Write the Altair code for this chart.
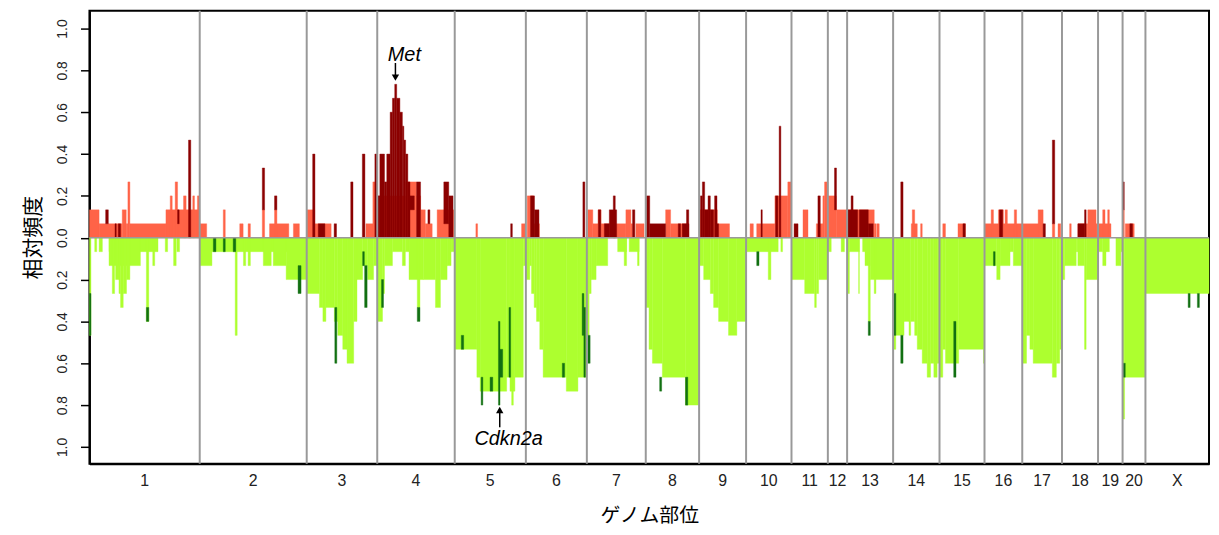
import altair as alt
import pandas as pd

# Chromosomes and their sizes (in 2.5-Mb bins)
CHROMS = ["1", "2", "3", "4", "5", "6", "7", "8", "9", "10", "11", "12", "13",
          "14", "15", "16", "17", "18", "19", "20", "X"]
CHROM_LEN = [111, 107.7, 71, 78, 71.6, 61.4, 59.3, 53.7, 47.3, 45.7, 36.6, 19.4,
             46.3, 46.7, 45.3, 38, 40, 36.3, 24.7, 23, 64]
N_SAMPLES = 15

# Gain frequency segments: (start, end, number of samples)
GAIN = [
    (0, 9.7, 2), (9.7, 33, 1), (33, 37, 2), (37, 38.7, 1), (38.7, 40.7, 4), (40.7, 77, 1),
    (77, 111, 2), (81.3, 83.3, 3), (86.3, 88.7, 4), (94.7, 97.3, 3), (104, 105.7, 3), (108.7, 110.3, 3),
    (111.3, 118, 1), (134.7, 136.7, 2), (151.3, 154.7, 1), (159.7, 162, 1), (174, 176.3, 2),
    (181.3, 200.7, 1), (186.3, 188.7, 2), (205.3, 211.3, 1),
    (218.7, 226.7, 2), (226.7, 243.3, 1), (278.3, 286.7, 1), (285.3, 288, 4),
    (289.7, 318.3, 3), (318.3, 329.3, 4), (329.3, 333.3, 3), (333.3, 338, 2), (338, 345, 1), (350, 367.7, 2),
    (389, 390.7, 1), (435, 439.3, 1),
    (440.7, 447, 3), (447, 453, 1),
    (501.7, 506.7, 2), (506.7, 512, 1), (512, 515, 2), (515, 540, 1), (540, 545, 2), (545, 546.7, 1),
    (550, 558.3, 1),
    (580, 585, 2), (585, 603.3, 1),
    (614.3, 632, 2), (632, 644.3, 1),
    (665, 668.3, 1), (671.7, 690, 1), (690, 703, 3), (703, 706.7, 4),
    (718.3, 723.3, 2), (731.7, 738.3, 1), (738.3, 740, 3), (740, 743.3, 4),
    (743.3, 751.7, 3), (751.7, 762.7, 2),
    (762.7, 790, 2), (790, 792, 1), (792.7, 795, 1),
    (827.3, 833.3, 1), (828.3, 830.7, 2), (836.7, 838.3, 1),
    (859, 861.7, 1), (874.3, 881.7, 1),
    (901, 939, 1), (907.7, 910, 2), (915, 920, 2), (921.7, 924, 2), (931, 933.3, 2),
    (939, 960, 1), (955, 960, 2), (969.3, 971.7, 1), (975, 977.7, 1),
    (986.7, 988.3, 1), (995, 1005, 1), (1005, 1013.3, 2), (1013.3, 1015.3, 1),
    (1015.3, 1028.3, 1), (1020, 1022.3, 2), (1025, 1026.7, 2),
    (1040, 1041.7, 2), (1042.7, 1051.7, 1),
]

# High-level gain segments: (start, end, lower count, upper count)
AMP = [
    (16.3, 19, 1, 2), (25.7, 27, 0, 1), (29, 31.3, 0, 1), (88.7, 90.3, 1, 2), (99.7, 102, 0, 7),
    (174, 176.3, 2, 5), (186.3, 188.7, 2, 3),
    (224.7, 227, 0, 6), (230.3, 237, 0, 1), (246.3, 248.7, 0, 1), (263, 265.3, 0, 4),
    (274.7, 277.3, 0, 6), (287.3, 289.7, 0, 6),
    (289.7, 292.3, 0, 3), (292.3, 297, 0, 6), (297, 299.3, 0, 4), (299.3, 302.7, 0, 6),
    (302.7, 305, 0, 9), (305, 307.3, 0, 10), (307.3, 309.3, 0, 11), (309.3, 312.5, 0, 10),
    (312.5, 315, 0, 9), (315, 316.5, 0, 8), (316.5, 318.3, 0, 7), (318.3, 320.5, 0, 6),
    (320.5, 322.7, 0, 4), (322.7, 327, 2, 3), (329.3, 333.3, 0, 4), (340.7, 342.7, 1, 2),
    (356.7, 361.7, 1, 4), (361.7, 366, 0, 3),
    (424, 425.7, 0, 1),
    (444, 448, 0, 3), (448, 452.5, 0, 2), (496.7, 498.7, 0, 4),
    (512.3, 514.7, 0, 2), (518.3, 523.3, 0, 1), (523.3, 530.7, 0, 2), (527.3, 529.3, 0, 3),
    (546.7, 549, 0, 2),
    (560.7, 564, 0, 3), (564, 580, 0, 1), (592.7, 595, 0, 1), (596.7, 603.3, 0, 1), (601, 603.3, 0, 2),
    (615, 617, 0, 3), (617, 619.3, 0, 4), (619.3, 622.7, 0, 2), (622.7, 625, 0, 3),
    (625, 628.3, 0, 2), (629.3, 631.7, 0, 3), (631.7, 633.3, 0, 1),
    (676, 677.3, 0, 2), (690.7, 693, 0, 3), (694.3, 696, 0, 8),
    (709.3, 713.3, 0, 1), (733.3, 735.7, 0, 3),
    (750, 752, 2, 5),
    (762.7, 773.3, 0, 2), (766.7, 768.7, 0, 3), (775, 784, 0, 2), (784, 789, 0, 1),
    (816.7, 819, 0, 4),
    (879.3, 881.7, 0, 1),
    (916, 919.3, 0, 2),
    (960, 962.3, 0, 1), (969.3, 971.7, 1, 7),
    (995, 1001.7, 0, 1), (1001.7, 1003.3, 0, 2),
    (1040, 1041.7, 2, 4), (1047.3, 1050, 0, 1),
]

# Loss frequency segments: (start, end, number of samples)
LOSS = [
    (0, 1.5, 7), (5.3, 7.3, 1), (9.7, 13, 1), (19.7, 69, 1), (19.7, 51.3, 2), (23, 25.3, 4),
    (26.3, 29.7, 3), (29.7, 31.3, 4), (31.3, 34, 5), (34, 37.3, 4), (37.3, 40.7, 3), (57.3, 59.7, 6),
    (63.7, 65.7, 2), (76.3, 78.7, 1), (84.7, 87.3, 2), (88, 90.7, 1),
    (111, 218.7, 1), (111, 123.3, 2), (146.7, 148.7, 7), (155, 157.3, 2), (159.7, 162, 2),
    (175, 183, 2), (185, 198, 2), (198, 218.7, 3),
    (218.7, 231.5, 4), (231.5, 235, 5), (235, 238, 6), (238, 246.5, 5), (246.5, 250, 6),
    (250, 255, 7), (255, 259.3, 8), (259.3, 266, 9), (266, 269.3, 6), (269.3, 275, 3),
    (275, 280, 2), (280, 286, 3), (286, 289.7, 2),
    (289.7, 295, 6), (295, 297, 4), (297, 305, 2), (305, 315, 1), (315, 318, 2), (318, 321.7, 1),
    (321.7, 336, 3), (330, 332.7, 5), (336, 348.3, 3), (348.3, 353.3, 5), (353.3, 360, 3),
    (360, 364, 2), (364, 367.7, 1),
    (367.7, 390, 8), (390, 393.3, 10), (393.3, 420, 11), (420, 423.3, 10), (423.3, 428.3, 11),
    (425, 426.7, 12), (428.3, 436.7, 10), (436.7, 439.3, 2),
    (439.3, 443.3, 3), (443.3, 445, 2), (445, 447.7, 4), (447.7, 450, 5), (450, 453.3, 6),
    (453.3, 456.7, 8), (456.7, 480, 10), (480, 491.7, 11), (491.7, 500.7, 10),
    (500.7, 503, 7), (503, 505, 4), (505, 510, 3), (510, 521.7, 2), (531.7, 540.7, 1),
    (538.3, 540.7, 2), (543.3, 553.3, 1), (551.7, 553.3, 2),
    (560, 563.3, 5), (563.3, 566.7, 8), (566.7, 576.7, 9), (576.7, 600, 10), (600, 613.7, 12),
    (613.7, 618.3, 2), (618.3, 625, 3), (625, 628.3, 4), (628.3, 633.3, 5), (633.3, 643.3, 6),
    (643.3, 651.7, 7), (651.7, 661, 6),
    (661, 693.3, 1), (683.3, 686, 3), (696, 697.7, 1),
    (706.7, 720, 3), (720, 730, 4), (730, 731.7, 5), (731.7, 734, 4), (734, 743.3, 3),
    (743.3, 746.7, 1), (756.7, 760, 1),
    (762.7, 765, 4), (765, 775, 1), (774.3, 775, 4), (778.3, 782.7, 1), (780.7, 786, 2),
    (784, 786, 6), (786, 809, 3), (790, 791.7, 4),
    (809, 811.7, 8), (811.7, 820, 7), (820, 825, 6), (825, 826.7, 7), (826.7, 830.7, 6),
    (830.7, 833.3, 7), (833.3, 838.3, 8), (838.3, 843.3, 9), (843.3, 846.7, 10), (846.7, 850, 9),
    (850, 853.3, 10), (853.3, 855.7, 9),
    (855.7, 859, 10), (859, 861.7, 8), (861.7, 875, 9), (875, 900, 8), (900, 901, 9),
    (901, 913.3, 2), (913.3, 916.7, 3), (916.7, 926.7, 2), (926.7, 930, 1), (930, 939, 2),
    (939, 943.3, 9), (943.3, 946.7, 7), (946.7, 950, 8), (950, 969.3, 9), (969.3, 973.3, 10),
    (973.3, 976.7, 9), (976.7, 979, 8),
    (979, 981.7, 3), (981.7, 993.3, 2), (993.3, 995, 1), (995, 1001.7, 2), (1001.7, 1003.3, 8),
    (1003.3, 1015.3, 3),
    (1015.3, 1020, 1), (1020, 1023.3, 2), (1023.3, 1026.7, 1), (1033.3, 1038.3, 2), (1038.3, 1040, 1),
    (1040, 1042, 13), (1042, 1063, 10),
    (1063, 1127, 4),
]

# Deep loss segments: (start, end, lower count, upper count)
DEL = [
    (0, 1.5, 4, 7), (57.3, 59.7, 5, 6),
    (124.7, 127.3, 0, 1), (134.7, 136.7, 0, 1), (144.7, 147.3, 0, 1), (210, 213, 2, 4),
    (247, 249, 5, 9), (275, 276.7, 1, 2), (277, 279.5, 2, 5),
    (294, 296, 3, 5), (330, 332.7, 5, 6),
    (374.3, 376.7, 7, 8), (394.3, 396, 10, 12), (403.3, 406, 10, 11), (411.7, 413.3, 6, 12),
    (413, 416, 8, 10), (422.3, 424, 5, 10),
    (476, 478.3, 9, 10), (496, 497.7, 4, 7), (497.7, 499.3, 5, 10),
    (501.7, 504, 7, 9),
    (574, 576, 10, 11), (600, 602.3, 10, 12),
    (671.7, 674, 1, 2),
    (784, 786, 6, 7),
    (809, 811.7, 4, 7), (816.7, 819, 7, 9),
    (870, 872.3, 6, 10),
    (910, 911.7, 1, 2),
    (1040.3, 1042.7, 9, 10),
    (1106, 1108, 4, 5), (1115.3, 1117.3, 4, 5),
]

# Gene annotations: (name, position, tip value, tail value, label x, label y)
GENES = [
    ("Met", 308, 0.748, 0.835, 317, 0.843),
    ("Cdkn2a", 413, -0.803, -0.906, 422, -0.99),
]

SALMON = "#FF6347"
DARKRED = "#8B0000"
LIGHTGREEN = "#ADFF2F"
DARKGREEN = "#127012"

# ---- build tables ----
bounds = [0.0]
for L in CHROM_LEN:
    bounds.append(bounds[-1] + L)
total = bounds[-1]

gain_df = pd.DataFrame(GAIN, columns=["start", "end", "k"])
gain_df["lo"] = 0.0
gain_df["hi"] = gain_df["k"] / N_SAMPLES

amp_df = pd.DataFrame(AMP, columns=["start", "end", "klo", "khi"])
amp_df["lo"] = amp_df["klo"] / N_SAMPLES
amp_df["hi"] = amp_df["khi"] / N_SAMPLES

loss_df = pd.DataFrame(LOSS, columns=["start", "end", "k"])
loss_df["lo"] = 0.0
loss_df["hi"] = -loss_df["k"] / N_SAMPLES

del_df = pd.DataFrame(DEL, columns=["start", "end", "klo", "khi"])
del_df["lo"] = -del_df["klo"] / N_SAMPLES
del_df["hi"] = -del_df["khi"] / N_SAMPLES

bound_df = pd.DataFrame({"pos": bounds[1:-1]})
label_df = pd.DataFrame({
    "name": CHROMS,
    "mid": [(bounds[i] + bounds[i + 1]) / 2 for i in range(len(CHROMS))],
})
gene_df = pd.DataFrame(GENES, columns=["name", "pos", "tip", "tail", "lx", "ly"])
gene_df["head"] = gene_df["tip"] + (gene_df["tail"] - gene_df["tip"]) * 0.2

xscale = alt.Scale(domain=[0, total], nice=False, zero=False)
yscale = alt.Scale(domain=[-1.08, 1.085], nice=False, zero=False)

FONT = "Liberation Sans"
JP = "Noto Sans CJK JP"

yaxis = alt.Axis(
    values=[-1.0, -0.8, -0.6, -0.4, -0.2, 0.0, 0.2, 0.4, 0.6, 0.8, 1.0],
    labelExpr="format(abs(datum.value), '.1f')",
    labelAngle=270, labelAlign="center", labelBaseline="bottom",
    labelFont=FONT, labelFontSize=14, labelColor="#222222", labelPadding=11,
    tickSize=9, tickColor="black", tickWidth=1.5, domain=True, domainColor="black",
    domainWidth=2, grid=False,
    title="相対頻度", titleFont=JP, titleFontSize=21, titleFontWeight="normal",
    titleColor="black", titlePadding=12,
)
xaxis = alt.Axis(
    labels=False, ticks=False, domain=True, domainColor="black", domainWidth=2, grid=False,
    title="ゲノム部位", titleFont=JP, titleFontSize=20, titleFontWeight="normal",
    titleColor="black", titlePadding=42,
)


def rects(df, color):
    return alt.Chart(df).mark_rect(color=color, stroke=color, strokeWidth=0.4).encode(
        x=alt.X("start:Q", scale=xscale), x2="end:Q",
        y=alt.Y("lo:Q", scale=yscale), y2="hi:Q",
    )


gain = alt.Chart(gain_df).mark_rect(color=SALMON, stroke=SALMON, strokeWidth=0.4).encode(
    x=alt.X("start:Q", scale=xscale, axis=xaxis),
    x2="end:Q",
    y=alt.Y("lo:Q", scale=yscale, axis=yaxis),
    y2="hi:Q",
)
amp = rects(amp_df, DARKRED)
loss = rects(loss_df, LIGHTGREEN)
deep = rects(del_df, DARKGREEN)

zero = alt.Chart(pd.DataFrame({"y": [0.0]})).mark_rule(color="#9a9a9a", strokeWidth=1.5).encode(
    y=alt.Y("y:Q", scale=yscale)
)
blines = alt.Chart(bound_df).mark_rule(color="#999999", strokeWidth=2).encode(
    x=alt.X("pos:Q", scale=xscale)
)
clabels = alt.Chart(label_df).mark_text(
    font="Liberation Sans Narrow, Liberation Sans", fontSize=16, color="#222222", baseline="middle"
).encode(
    x=alt.X("mid:Q", scale=xscale),
    y=alt.value(473),
    text="name:N",
)

arrow_line = alt.Chart(gene_df).mark_rule(color="black", strokeWidth=1.5).encode(
    x=alt.X("pos:Q", scale=xscale),
    y=alt.Y("head:Q", scale=yscale), y2="tail:Q",
)
arrow_head_down = alt.Chart(gene_df[gene_df["tip"] > 0]).mark_point(
    shape="triangle-down", filled=True, color="black", size=55, opacity=1
).encode(x=alt.X("pos:Q", scale=xscale), y=alt.Y("head:Q", scale=yscale))
arrow_head_up = alt.Chart(gene_df[gene_df["tip"] < 0]).mark_point(
    shape="triangle-up", filled=True, color="black", size=55, opacity=1
).encode(x=alt.X("pos:Q", scale=xscale), y=alt.Y("head:Q", scale=yscale))
gene_text = alt.Chart(gene_df).mark_text(
    font=FONT, fontSize=20, fontStyle="italic", color="black", baseline="alphabetic", align="center"
).encode(
    x=alt.X("lx:Q", scale=xscale),
    y=alt.Y("ly:Q", scale=yscale),
    text="name:N",
)

chart = alt.layer(
    gain, amp, loss, deep, zero, blines, clabels, arrow_line, arrow_head_down, arrow_head_up, gene_text
).properties(
    width=1127, height=456,
    background="white",
    autosize=alt.AutoSizeParams(type="none"),
    padding={"left": 82, "top": 1, "right": 2, "bottom": 62},
).configure_view(
    stroke="black", strokeWidth=2
)

chart.save("out.html", embed_options={"renderer": "svg", "actions": False})
